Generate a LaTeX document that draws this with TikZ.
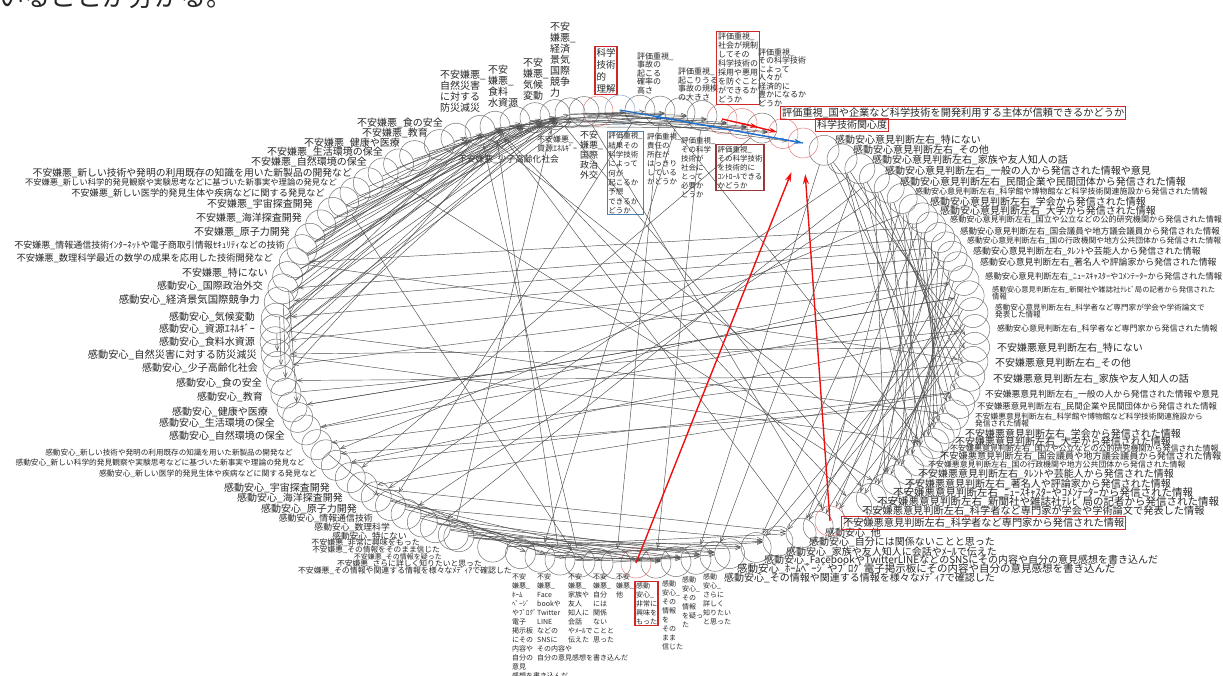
\documentclass[tikz,border=0pt]{standalone}
\usepackage{fontspec}
\setmainfont{Noto Sans CJK JP}
\usetikzlibrary{arrows.meta}
\definecolor{ringred}{HTML}{E07878}
\definecolor{ringblue}{HTML}{7FA6CC}
\definecolor{boxred}{HTML}{D02828}
\definecolor{boxbrown}{HTML}{983838}
\definecolor{boxblue}{HTML}{4F7FAF}
\definecolor{arrred}{HTML}{EE1010}
\definecolor{arrblue}{HTML}{1F6FD0}

\begin{document}
\begin{tikzpicture}[x=1pt, y=-1pt,
    ring/.style={circle, draw=black!55, line width=0.5pt, minimum size=30pt, inner sep=0pt},
    redring/.style={ring, draw=ringred},
    bluering/.style={ring, draw=ringblue},
    lbl/.style={inner sep=0pt, align=left, text=black!85},
    boxlbl/.style={lbl, draw=#1, line width=1.2pt, inner sep=1.5pt},
    link/.style={-{Straight Barb[length=5pt,width=4pt]}, draw=black!70, line width=0.45pt},
    redlink/.style={-{Stealth[length=10pt,width=6pt]}, draw=arrred, line width=1.4pt},
    bluelink/.style={-{Stealth[length=9pt,width=5pt]}, draw=arrblue, line width=1.2pt}
]
\useasboundingbox (0,0) rectangle (1223,675);

% cut-off line of the page above
\node[lbl, anchor=base west, font=\fontsize{26}{26}\selectfont] (note) at (-2,6) {いることが分かる。};

% left side of the ring
\foreach \i/\x/\y/\fs/\txt in {
  1/443/123/10/{不安嫌悪\_食の安全},
  2/428/133/10/{不安嫌悪\_教育},
  3/400/143/10/{不安嫌悪\_健康や医療},
  4/383/152/10/{不安嫌悪\_生活環境の保全},
  5/367/162/10/{不安嫌悪\_自然環境の保全},
  6/352/173/9.8/{不安嫌悪\_新しい技術や発明の利用既存の知識を用いた新製品の開発など},
  7/337/183/8.3/{不安嫌悪\_新しい科学的発見観察や実験思考などに基づいた新事実や理論の発見など},
  8/325/193/9.2/{不安嫌悪\_新しい医学的発見生体や疾病などに関する発見など},
  9/313/204/10/{不安嫌悪\_宇宙探査開発},
  10/302/218/10/{不安嫌悪\_海洋探査開発},
  11/290/232/10/{不安嫌悪\_原子力開発},
  12/285/245/9/{不安嫌悪\_情報通信技術ｲﾝﾀｰﾈｯﾄや電子商取引情報ｾｷｭﾘﾃｨなどの技術},
  13/273/258/9.3/{不安嫌悪\_数理科学最近の数学の成果を応用した技術開発など},
  14/268/273/10/{不安嫌悪\_特にない},
  15/263/286/10/{感動安心\_国際政治外交},
  16/260/300/10.4/{感動安心\_経済景気国際競争力},
  17/255/317/10/{感動安心\_気候変動},
  18/255/329/10/{感動安心\_資源ｴﾈﾙｷﾞｰ},
  19/255/342/10/{感動安心\_食料水資源},
  20/257/355/10.2/{感動安心\_自然災害に対する防災減災},
  21/258/368/10/{感動安心\_少子高齢化社会},
  22/262/383/10/{感動安心\_食の安全},
  23/263/397/10/{感動安心\_教育},
  24/268/412/10/{感動安心\_健康や医療},
  25/275/423/10/{感動安心\_生活環境の保全},
  26/285/436/10/{感動安心\_自然環境の保全},
  27/293/453/7.6/{感動安心\_新しい技術や発明の利用既存の知識を用いた新製品の開発など},
  28/305/463/7.7/{感動安心\_新しい科学的発見観察や実験思考などに基づいた新事実や理論の発見など},
  29/317/474/7.9/{感動安心\_新しい医学的発見生体や疾病などに関する発見など},
  30/330/488/10/{感動安心\_宇宙探査開発},
  31/343/498/10/{感動安心\_海洋探査開発},
  32/357/509/10/{感動安心\_原子力開発},
  33/373/518/8.9/{感動安心\_情報通信技術},
  34/390/527/8.8/{感動安心\_数理科学},
  35/407/536/8.7/{感動安心\_特にない},
  36/420/543/8/{不安嫌悪\_非常に興味をもった},
  37/440/550/7.7/{不安嫌悪\_その情報をそのまま信じた},
  38/442/557/7/{不安嫌悪\_その情報を疑った},
  39/482/564/7.8/{不安嫌悪\_さらに詳しく知りたいと思った},
  40/512/571/7.9/{不安嫌悪\_その情報や関連する情報を様々なﾒﾃﾞｨｱで確認した}}{
  \pgfmathsetmacro\ang{atan2((\y-337)/227,(\x-625)/350)}
  \node[ring] (l\i) at ({625+350*cos(\ang)},{337+227*sin(\ang)}) {};
  \node[lbl, anchor=east, font=\fontsize{\fs}{\fs}\selectfont] (lt\i) at (\x,\y) {\txt};
}

% right side of the ring
\foreach \i/\x/\y/\fs/\txt in {
  3/835/140/10/{感動安心意見判断左右\_特にない},
  4/853/150/10/{感動安心意見判断左右\_その他},
  5/872/160/10/{感動安心意見判断左右\_家族や友人知人の話},
  6/885/171/10/{感動安心意見判断左右\_一般の人から発信された情報や意見},
  7/900/182/10/{感動安心意見判断左右\_民間企業や民間団体から発信された情報},
  8/915/192/8/{感動安心意見判断左右\_科学館や博物館など科学技術関連施設から発信された情報},
  9/930/202/10/{感動安心意見判断左右\_学会から発信された情報},
  10/940/211/10/{感動安心意見判断左右\_大学から発信された情報},
  11/950/220/8.1/{感動安心意見判断左右\_国立や公立などの公的研究機関から発信された情報},
  12/960/231/8.5/{感動安心意見判断左右\_国会議員や地方議会議員から発信された情報},
  13/967/241/7.8/{感動安心意見判断左右\_国の行政機関や地方公共団体から発信された情報},
  14/973/251/8.9/{感動安心意見判断左右\_ﾀﾚﾝﾄや芸能人から発信された情報},
  15/980/262/8.9/{感動安心意見判断左右\_著名人や評論家から発信された情報},
  16/985/277/8.3/{感動安心意見判断左右\_ﾆｭｰｽｷｬｽﾀｰやｺﾒﾝﾃｰﾀｰから発信された情報},
  17/992/293/7.3/{感動安心意見判断左右\_新聞社や雑誌社ﾃﾚﾋﾞ局の記者から発信された\\情報},
  18/995/311/7.6/{感動安心意見判断左右\_科学者など専門家が学会や学術論文で\\発表した情報},
  19/997/329/8/{感動安心意見判断左右\_科学者など専門家から発信された情報},
  20/997/348/10/{不安嫌悪意見判断左右\_特にない},
  21/995/363/10/{不安嫌悪意見判断左右\_その他},
  22/993/379/10/{不安嫌悪意見判断左右\_家族や友人知人の話},
  23/985/394/8.8/{不安嫌悪意見判断左右\_一般の人から発信された情報や意見},
  24/977/407/8.4/{不安嫌悪意見判断左右\_民間企業や民間団体から発信された情報},
  25/975/420/7.7/{不安嫌悪意見判断左右\_科学館や博物館など科学技術関連施設から\\発信された情報},
  26/965/434/10/{不安嫌悪意見判断左右\_学会から発信された情報},
  27/955/442/10/{不安嫌悪意見判断左右\_大学から発信された情報},
  28/950/449/8/{不安嫌悪意見判断左右\_国立や公立などの公的研究機関から発信された情報},
  29/940/456/9.2/{不安嫌悪意見判断左右\_国会議員や地方議会議員から発信された情報},
  30/928/465/7.9/{不安嫌悪意見判断左右\_国の行政機関や地方公共団体から発信された情報},
  31/918/474/10/{不安嫌悪意見判断左右\_ﾀﾚﾝﾄや芸能人から発信された情報},
  32/905/484/10/{不安嫌悪意見判断左右\_著名人や評論家から発信された情報},
  33/893/493/10.5/{不安嫌悪意見判断左右\_ﾆｭｰｽｷｬｽﾀｰやｺﾒﾝﾃｰﾀｰから発信された情報},
  34/877/502/10.5/{不安嫌悪意見判断左右\_新聞社や雑誌社ﾃﾚﾋﾞ局の記者から発信された情報},
  35/862/511/10.2/{不安嫌悪意見判断左右\_科学者など専門家が学会や学術論文で発表した情報},
  37/825/533/10/{感動安心\_他},
  38/809/542/10/{感動安心\_自分には関係ないことと思った},
  39/786/552/10/{感動安心\_家族や友人知人に会話やﾒｰﾙで伝えた},
  40/764/560/10/{感動安心\_FacebookやTwitterLINEなどのSNSにその内容や自分の意見感想を書き込んだ},
  41/737/569/10.5/{感動安心\_ﾎｰﾑﾍﾟｰｼﾞやﾌﾞﾛｸﾞ電子掲示板にその内容や自分の意見感想を書き込んだ},
  42/724/578/10/{感動安心\_その情報や関連する情報を様々なﾒﾃﾞｨｱで確認した}}{
  \pgfmathsetmacro\ang{atan2((\y-337)/227,(\x-625)/350)}
  \node[ring] (r\i) at ({625+350*cos(\ang)},{337+227*sin(\ang)}) {};
  \node[lbl, anchor=west, font=\fontsize{\fs}{\fs}\selectfont] (rt\i) at (\x,\y) {\txt};
}

% top of the ring, labels above
\foreach \i/\cx/\x/\y/\fs/\lh/\txt in {
  1/495/440/113/10/11/{不安嫌悪\_\\自然災害\\に対する\\防災減災},
  2/515/488/108/10/11/{不安\\嫌悪\_\\食料\\水資源},
  3/535/523/101/10/11/{不安\\嫌悪\_\\気候\\変動},
  4/570/550/98/10/11/{不安\\嫌悪\_\\経済\\景気\\国際\\競争\\力},
  6/640/637/94/8/8.5/{評価重視\_\\事故の\\起こる\\確率の\\高さ},
  7/680/678/101/8/8.5/{評価重視\_\\起こりうる\\事故の規模\\の大きさ},
  9/762/758/107/8/8.5/{評価重視\_\\その科学技術\\によって\\人々が\\経済的に\\豊かになるか\\どうか}}{
  \node[ring] (t\i) at ({\cx},{337-227*sqrt(1-((\cx-625)/350)^2)}) {};
  \node[lbl, anchor=south west, font=\fontsize{\fs}{\lh}\selectfont] (tt\i) at (\x,\y) {\txt};
}

% top of the ring, labels below
\foreach \i/\cx/\x/\y/\fs/\lh/\txt in {
  10/555/537/136/8/9/{不安嫌悪\_\\資源ｴﾈﾙｷﾞｰ},
  11/480/458/155/8.7/9/{不安嫌悪\_少子高齢化社会},
  12/584/580/131/9/10/{不安\\嫌悪\_\\国際\\政治\\外交},
  14/660/647/133/7.5/9/{評価重視\_\\責任の\\所在が\\はっきり\\している\\かどうか},
  15/702/681/137/7.5/9/{評価重視\_\\その科学\\技術が\\社会に\\とって\\必要か\\どうか}}{
  \node[ring] (t\i) at ({\cx},{337-227*sqrt(1-((\cx-625)/350)^2)}) {};
  \node[lbl, anchor=north west, font=\fontsize{\fs}{\lh}\selectfont] (tt\i) at (\x,\y) {\txt};
}

% bottom of the ring
\foreach \i/\cx/\x/\y/\txt in {
  1/540/512/573/{不安\\嫌悪\_\\ﾎｰﾑ\\ﾍﾟｰｼﾞ\\やﾌﾞﾛｸﾞ\\電子\\掲示板\\にその\\内容や\\自分の\\意見\\感想を書き込んだ},
  2/560/537/573/{不安\\嫌悪\_\\Face\\bookや\\Twitter\\LINE\\などの\\SNSに\\その内容や\\自分の意見感想を書き込んだ},
  3/580/568/573/{不安\\嫌悪\_\\家族や\\友人\\知人に\\会話\\やﾒｰﾙで\\伝えた},
  4/598/593/573/{不安\\嫌悪\_\\自分\\には\\関係\\ない\\ことと\\思った},
  5/616/616/573/{不安\\嫌悪\_\\他},
  7/656/662/580/{感動\\安心\_\\その\\情報\\を\\その\\まま\\信じた},
  8/676/682/576/{感動\\安心\_\\その\\情報\\を疑っ\\た},
  9/696/703/573/{感動\\安心\_\\さらに\\詳しく\\知りたい\\と思った}}{
  \node[ring] (b\i) at ({\cx},{337+227*sqrt(1-((\cx-625)/350)^2)}) {};
  \node[lbl, anchor=north west, font=\fontsize{7}{9}\selectfont] (bt\i) at (\x,\y) {\txt};
}

% highlighted items
\node[redring] (rikai) at (598,111) {};
\node[boxlbl=boxred, anchor=south, font=\fontsize{9.5}{12}\selectfont] (rikaitx) at (606,95) {科学\\技術\\的\\理解};
\node[bluering] (yosoku) at (620,110) {};
\node[boxlbl=boxblue, anchor=north, inner sep=1pt, font=\fontsize{7.5}{9.3}\selectfont] (yosokutx) at (625.5,131) {評価重視\_\\結果その\\科学技術\\によって\\何が\\起こるか\\予想\\できるか\\どうか};
\node[redring] (kisei) at (722,119) {};
\node[boxlbl=boxred, anchor=south, font=\fontsize{8}{9}\selectfont] (kiseitx) at (738,105) {評価重視\_\\社会が規制\\してその\\科学技術の\\採用や悪用\\を防ぐこと\\ができるか\\どうか};
\node[redring] (control) at (742,123.5) {};
\node[boxlbl=boxbrown, anchor=north, font=\fontsize{7.5}{9}\selectfont] (controltx) at (740,144) {評価重視\_\\その科学技術\\を技術的に\\ｺﾝﾄﾛｰﾙできる\\かどうか};
\node[redring] (shutai) at (783,133.5) {};
\node[boxlbl=boxred, anchor=west, font=\fontsize{10.2}{10.2}\selectfont] (shutaitx) at (780,113) {評価重視\_国や企業など科学技術を開発利用する主体が信頼できるかどうか};
\node[redring] (kanshin) at (803,143) {};
\node[boxlbl=boxred, anchor=west, font=\fontsize{10}{10}\selectfont] (kanshintx) at (815,125) {科学技術関心度};
\node[redring] (kyomi) at (636,563) {};
\node[boxlbl=boxred, anchor=north, inner sep=1pt, font=\fontsize{7}{9}\selectfont] (kyomitx) at (646.5,581) {感動\\安心\_\\非常に\\興味を\\もった};
\node[redring] (senmon) at (830,521) {};
\node[boxlbl=boxred, anchor=west, font=\fontsize{10.2}{10.2}\selectfont] (senmontx) at (841,523) {不安嫌悪意見判断左右\_科学者など専門家から発信された情報};

% links between the items
\foreach \a/\b in {l14/t4, l13/t3, l12/t10, l11/t2, l10/t4, l9/t1, l15/t3, l16/t10, l8/t4, l7/t2,
  l6/t11, l5/t3, l4/t10, l3/t4, l2/t12, l17/t4, l18/t2, l19/t12, l12/t1, l13/t11,
  l9/t4, l10/t3, l11/t4, l12/t2, l13/t12, l14/t10, l15/t2, l16/t1, l17/t3, l18/t11,
  l19/t4, l20/t3, l21/t10, l22/t2,
  t4/control, t3/t9, t2/t7, t1/t15, t12/shutai, t10/t14, t11/t6,
  t1/t9, t2/control, t3/kisei, t4/t15, t10/t7, t11/kisei, t12/t9, t3/shutai, t4/kanshin,
  r3/r20, r4/r21, r5/r22, r6/r23, r7/r24, r8/r25, r9/r26, r10/r27, r11/r28, r12/r29,
  r13/r30, r14/r31, r15/r32, r16/r33, r17/r34, r18/r35, r19/senmon, r4/r30, r6/r33,
  r8/r37, r10/r38, r5/r42, r3/b9, r9/r40,
  r3/r25, r4/r27, r5/r29, r7/r31, r9/r33, r11/r35, r13/senmon, r15/r38, r17/r40,
  r6/r28, r8/r30, r10/r32, r12/r34, r16/r37, r18/r39,
  l35/r41, l33/r39, l34/r42, l36/b7, l37/r40, l38/b9, l39/r38, l40/b8, b1/r39, b2/b8,
  l32/b4, l31/r38, l30/b2,
  l33/b5, l34/b3, l35/b9, l36/r42, l37/b8, l38/r41, l39/r39, l40/r40, b1/b9, b2/r42,
  b4/r41, l32/b7, l31/b1,
  l15/l23, l17/l21, l16/l22, l14/l25, l27/l33,
  r14/l17, r13/l16, r15/l19, r16/l21, r17/l24, r18/l26, r12/l15, r19/l29, r20/l20,
  r21/l27, r23/l31, r22/l22, r11/l13, r24/l28,
  l18/r25, l20/r28, l23/r19, l26/r16, l29/r23, l13/r21, l24/r17,
  t11/r31, t12/senmon, t10/r34, l5/r33, t1/r35, l8/b3, t14/r29, t14/b5, t7/b1, t6/l33,
  t9/l30, r5/l32, r7/l34, r9/l28, b3/t11, b2/t1, r38/t1, l37/t10, t15/b7, r6/l36}
  \draw[link] (\a) -- (\b);

\draw[redlink, shorten >=16pt] (kyomi.center) -- (kanshin);
\draw[redlink, shorten >=16pt] (senmon.center) -- (kanshin);
\draw[redlink, -{Stealth[length=8pt,width=5pt]}, shorten >=4pt] (kisei.center) -- (t9.center);
\draw[redlink, -{Stealth[length=8pt,width=5pt]}, shorten >=6pt] (control.center) -- (shutai.center);
\draw[bluelink, shorten >=18pt] (kanshin.center) -- (yosoku);
\draw[bluelink] (yosoku.center) -- (kanshin.center);
\end{tikzpicture}
\end{document}
